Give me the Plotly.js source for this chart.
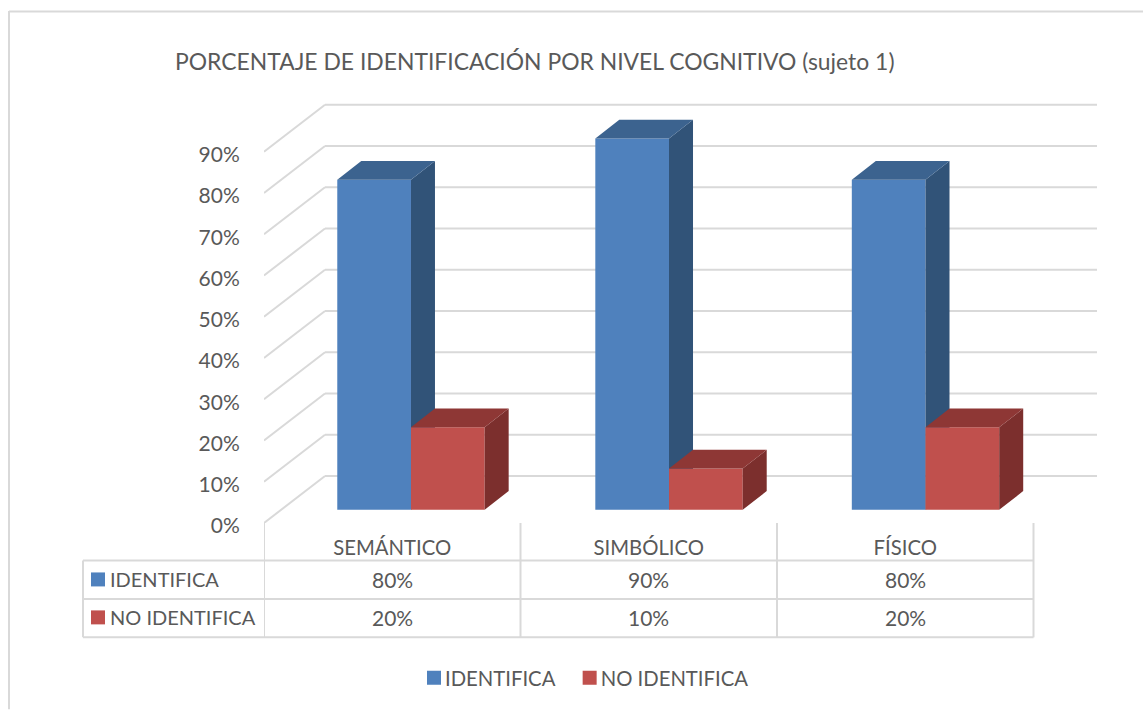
<!DOCTYPE html>
<html><head><meta charset="utf-8">
<script src="https://cdn.plot.ly/plotly-3.0.1.min.js"></script>
<style>html,body{margin:0;padding:0;background:#fff}#c{width:1143px;height:710px}</style>
</head><body><div id="c"></div>
<script>
var categories = ["SEMÁNTICO", "SIMBÓLICO", "FÍSICO"];
var identifica = [80, 90, 80];
var noIdentifica = [20, 10, 20];
var seriesNames = ["IDENTIFICA", "NO IDENTIFICA"];
var yTicks = [0, 10, 20, 30, 40, 50, 60, 70, 80, 90];
var titleText = "PORCENTAJE DE IDENTIFICACIÓN POR NIVEL COGNITIVO (sujeto 1)";

var FONT = "Lato, 'Open Sans', sans-serif", TXT = "#595959", GRID = "#d9d9d9";
var C = {blue:{f:"#4f81bd",s:"#315378",t:"#3c638f"}, red:{f:"#c0504d",s:"#7c2f2d",t:"#8e3735"}};
// plot frame in page pixels
var L = 264, R = 1097, T = 100, B = 523.5, W = 1143, H = 710;
var pxPerCat = 256.5, pxPerPct = 4.13;
var xMax = (R - L) / pxPerCat, yMax = (B - T) / pxPerPct;
function xp(px){ return (px - L) / (R - L); }
function yp(py){ return (B - py) / (B - T); }
// oblique projection constants (category / percent units)
var wallDx = 61 / pxPerCat, wallDy = 11.4;
var barDx = 24 / pxPerCat, barDy = 4.53, barW = 73.7 / pxPerCat, floorLift = 3.2;
var barPos = [0.573, 1.579, 2.579];

function faces(vals, x0){
  var s = {x:[], y:[]}, t = {x:[], y:[]};
  vals.forEach(function(v, i){
    var a = barPos[i] + x0, b = a + barW, top = floorLift + v;
    s.x.push(b, b + barDx, b + barDx, b, null);
    s.y.push(top, top + barDy, floorLift + barDy, floorLift, null);
    t.x.push(a, b, b + barDx, a + barDx, null);
    t.y.push(top, top, top + barDy, top + barDy, null);
  });
  return [s, t];
}
function poly(d, col, xa, ya){
  return {type:"scatter", mode:"lines", x:d.x, y:d.y, fill:"toself", fillcolor:col,
    line:{width:0, color:col}, xaxis:xa, yaxis:ya, showlegend:false, hoverinfo:"skip"};
}
var bf = faces(identifica, -barW), rf = faces(noIdentifica, 0);
var lifted = barPos.map(function(){ return floorLift; });
var data = [
  {type:"bar", name:seriesNames[0], x:barPos, y:identifica, base:lifted, width:barW, offset:-barW,
   marker:{color:C.blue.f}, xaxis:"x2", yaxis:"y2"},
  poly(bf[0], C.blue.s, "x2", "y2"), poly(bf[1], C.blue.t, "x2", "y2"),
  {type:"bar", name:seriesNames[1], x:barPos, y:noIdentifica, base:lifted, width:barW, offset:0,
   marker:{color:C.red.f}, xaxis:"x3", yaxis:"y3"},
  poly(rf[0], C.red.s, "x3", "y3"), poly(rf[1], C.red.t, "x3", "y3")
];

var shapes = [], annotations = [];
function line(xref, x0, x1, yref, y0, y1, w){
  shapes.push({type:"line", layer:"below", xref:xref, yref:yref, x0:x0, x1:x1, y0:y0, y1:y1,
    line:{color:GRID, width:w || 2}});
}
// wall and floor gridlines
yTicks.forEach(function(v){
  line("x", 0, wallDx, "y", v, v + wallDy);
  line("x", wallDx, xMax, "y", v + wallDy, v + wallDy);
});
// chart frame
line("paper", xp(9), xp(W), "paper", yp(11.5), yp(11.5));
line("paper", xp(9), xp(9), "paper", yp(11), yp(H));
// data table
[561, 599.5, 638].forEach(function(py){ line("paper", xp(83), xp(1033.5), "paper", yp(py), yp(py)); });
line("paper", xp(83), xp(83), "paper", yp(561), yp(638));
categories.concat([""]).forEach(function(c, i){ line("x", i, i, "paper", yp(B), yp(638)); });
var rows = [identifica, noIdentifica], rowY = [580, 618], swatch = [C.blue.f, C.red.f];
function note(text, xref, x, py, anchor, size){
  annotations.push({text:text, xref:xref, yref:"paper", x:x, y:yp(py), xanchor:anchor, yanchor:"middle",
    showarrow:false, font:{family:FONT, size:size, color:TXT}, borderpad:0});
}
rows.forEach(function(vals, r){
  shapes.push({type:"rect", layer:"below", xref:"paper", yref:"paper", x0:xp(91), x1:xp(105),
    y0:yp(rowY[r] - 7), y1:yp(rowY[r] + 7), fillcolor:swatch[r], line:{width:0}});
  note(seriesNames[r], "paper", xp(108.5), rowY[r], "left", 20);
  vals.forEach(function(v, i){ note(v + "%", "x", i + 0.5, rowY[r], "center", 21); });
});

var hidden = {visible:false, fixedrange:true};
function over(name, range){ return Object.assign({overlaying:name, range:range}, hidden); }
var layout = {
  width:W, height:H, paper_bgcolor:"#fff", plot_bgcolor:"rgba(0,0,0,0)",
  margin:{l:L, r:W - R, t:T, b:H - B, pad:0},
  font:{family:FONT, color:TXT, size:20},
  title:{text:titleText, x:175 / W, xanchor:"left", y:1 - 62 / H, yanchor:"middle",
         font:{family:FONT, size:22.9, color:TXT}, pad:{t:0,b:0,l:0,r:0}},
  showlegend:true,
  legend:{orientation:"h", x:414 / W, xref:"container", y:1 - 678 / H, yref:"container",
          xanchor:"left", yanchor:"middle", traceorder:"normal",
          font:{family:FONT, size:20.3, color:TXT},
          bgcolor:"rgba(0,0,0,0)", borderwidth:0},
  barmode:"overlay",
  xaxis:{range:[0, xMax], tickmode:"array", tickvals:[0.5, 1.5, 2.5], ticktext:categories,
         ticks:"outside", ticklen:7, tickcolor:"rgba(0,0,0,0)", showgrid:false, zeroline:false, showline:false,
         tickfont:{family:FONT, size:20.3, color:TXT}, fixedrange:true},
  yaxis:{range:[0, yMax], tickmode:"array", tickvals:yTicks,
         ticktext:yTicks.map(function(v){ return v + "%"; }),
         ticks:"outside", ticklen:19, tickcolor:"rgba(0,0,0,0)", showgrid:false, zeroline:false, showline:false,
         ticklabelshift:3,
         tickfont:{family:FONT, size:21, color:TXT}, fixedrange:true},
  xaxis2:over("x", [0, xMax]), yaxis2:over("y", [0, yMax]),
  xaxis3:over("x", [0, xMax]), yaxis3:over("y", [0, yMax]),
  shapes:shapes, annotations:annotations
};
Plotly.newPlot("c", data, layout, {displayModeBar:false, staticPlot:true}).then(function(gd){
  // tighten the legend swatch/label gap and enlarge the swatch, as in the reference
  gd.querySelectorAll(".legend .legendtext").forEach(function(t){ t.setAttribute("x", 31); });
  gd.querySelectorAll(".legend .legendpoints path").forEach(function(p){
    p.style.strokeWidth = "2px"; p.style.stroke = p.style.fill;
  });
});
</script></body></html>
